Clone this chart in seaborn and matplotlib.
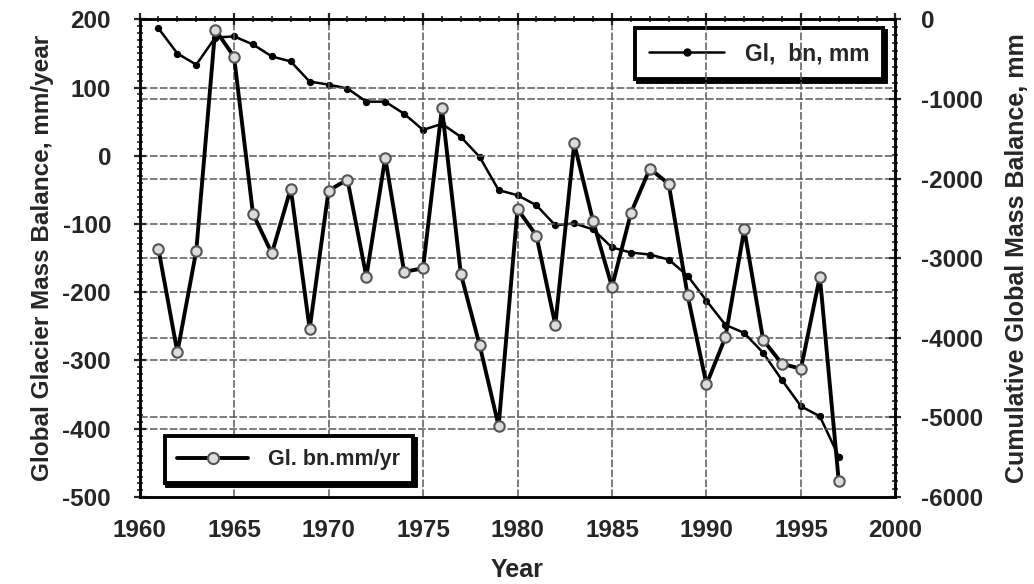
import numpy as np
import pandas as pd
import seaborn as sns
import matplotlib.pyplot as plt
from matplotlib.lines import Line2D
from matplotlib.ticker import MultipleLocator

# values
years = list(range(1961, 1998))
annual_mm = [-137, -288, -139, 185, 145, -85, -143, -48, -254, -51,
             -35, -177, -3, -170, -165, 70, -173, -278, -396, -78,
             -117, -248, 18, -96, -192, -84, -19, -41, -204, -335,
             -266, -108, -270, -305, -312, -177, -477]
cumulative_mm = [-114, -430, -570, -230, -215, -316, -467, -530, -783, -820,
                 -870, -1035, -1035, -1187, -1390, -1313, -1477, -1730, -2146, -2210,
                 -2336, -2588, -2563, -2640, -2866, -2930, -2955, -3018, -3220, -3535,
                 -3838, -3940, -4190, -4533, -4861, -4987, -5492]

df = pd.DataFrame({'Year': years, 'annual': annual_mm, 'cumulative': cumulative_mm})

sns.set_style('white')
plt.rcParams['font.family'] = ['Liberation Sans', 'DejaVu Sans']
plt.rcParams['font.weight'] = 'bold'
plt.rcParams['axes.unicode_minus'] = False

fig, ax = plt.subplots(figsize=(10.34, 5.84), dpi=100)
fig.subplots_adjust(left=0.135, right=0.866, top=0.967, bottom=0.149)
ax2 = ax.twinx()

# annual axis sits on top of the cumulative one
ax.set_zorder(ax2.get_zorder() + 1)
ax.patch.set_visible(False)

grid_kw = dict(color='0.35', lw=1.1, ls=(0, (5, 1.5)))

# cumulative series (right axis)
sns.lineplot(data=df, x='Year', y='cumulative', ax=ax2, color='black', lw=1.8,
             marker='o', markersize=4.5, markeredgecolor='black')
# annual series (left axis)
sns.lineplot(data=df, x='Year', y='annual', ax=ax, color='black', lw=2.8,
             marker='o', markersize=7.5, markerfacecolor='#dcdcdc',
             markeredgecolor='#555555', markeredgewidth=1.5)

ax.set_xlim(1960, 2000)
ax.set_ylim(-500, 200)
ax2.set_ylim(-6000, 0)

ax.xaxis.set_major_locator(MultipleLocator(5))
ax.xaxis.set_minor_locator(MultipleLocator(1))
ax.yaxis.set_major_locator(MultipleLocator(100))
ax.yaxis.set_minor_locator(MultipleLocator(10))
ax2.yaxis.set_major_locator(MultipleLocator(1000))
ax2.yaxis.set_minor_locator(MultipleLocator(100))

ax.grid(True, which='major', **grid_kw)
ax2.grid(True, which='major', axis='y', **grid_kw)

for a in (ax, ax2):
    for s in a.spines.values():
        s.set_color('black')
        s.set_linewidth(1.8)

ax.tick_params(axis='both', which='major', direction='inout', length=9, width=1.6,
               labelsize=17.5, top=True)
ax.tick_params(axis='both', which='minor', direction='inout', length=5, width=1.2, top=True)
ax.tick_params(axis='y', which='major', pad=16)
ax.tick_params(axis='x', which='major', pad=11)
ax2.tick_params(axis='y', which='major', direction='inout', length=9, width=1.6,
                labelsize=17.5, pad=14)
ax2.tick_params(axis='y', which='minor', direction='inout', length=5, width=1.2)

for lab in ax.get_xticklabels() + ax.get_yticklabels() + ax2.get_yticklabels():
    lab.set_fontweight('bold')

ax.set_xlabel('Year', fontsize=18, fontweight='bold', labelpad=12)
ax.set_ylabel('Global Glacier Mass Balance, mm/year', fontsize=17.5, fontweight='bold', labelpad=6)
ax2.set_ylabel('Cumulative Global Mass Balance, mm', fontsize=18, fontweight='bold', labelpad=16)

# legends
h_cum = Line2D([], [], color='black', lw=1.8, marker='o', markersize=5)
h_ann = Line2D([], [], color='black', lw=2.8, marker='o', markersize=8,
               markerfacecolor='#dcdcdc', markeredgecolor='#555555', markeredgewidth=1.5)

leg_kw = dict(frameon=True, fancybox=False, framealpha=1, edgecolor='black',
              handlelength=3.3, borderaxespad=0, borderpad=0.6, handletextpad=0.9,
              shadow={'color': 'black', 'alpha': 1})

leg2 = ax2.legend([h_cum], ['Gl,  bn, mm'], loc='upper right',
                  bbox_to_anchor=(0.984, 0.981), prop={'size': 16.5, 'weight': 'bold'},
                  **leg_kw)
leg2.get_frame().set_linewidth(2.8)

leg1 = ax.legend([h_ann], ['Gl. bn.mm/yr'], loc='lower left',
                 bbox_to_anchor=(0.033, 0.029), prop={'size': 15.5, 'weight': 'bold'},
                 **leg_kw)
leg1.get_frame().set_linewidth(2.8)

plt.savefig('out.png', dpi=100)
